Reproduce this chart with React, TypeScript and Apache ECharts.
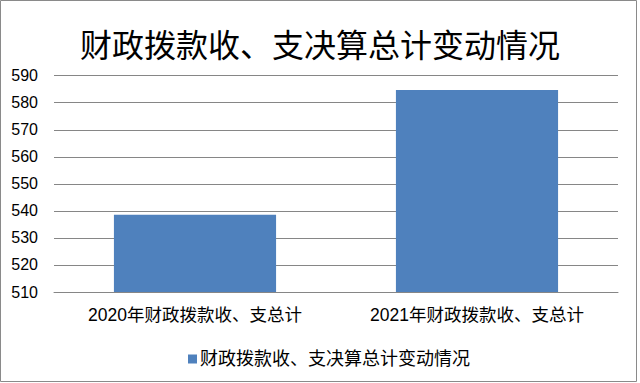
import React, { useEffect, useRef } from "react";
import * as echarts from "echarts";

const titleText = "财政拨款收、支决算总计变动情况";
const categories = ["2020年财政拨款收、支总计", "2021年财政拨款收、支总计"];
const seriesName = "财政拨款收、支决算总计变动情况";
const values = [538.6, 584.7];
const yMin = 510;
const yMax = 590;
const yInterval = 10;

const FONT = "'Liberation Sans', 'Noto Sans CJK SC', sans-serif";

export default function App() {
  const ref = useRef<HTMLDivElement>(null);
  useEffect(() => {
    document.body.style.margin = "0";
    const chart = echarts.init(ref.current!, null, { renderer: "svg" });
    chart.setOption({
      animation: false,
      backgroundColor: "#ffffff",
      title: {
        text: titleText,
        left: "center",
        top: 22,
        textStyle: {
          fontSize: 32,
          fontWeight: "normal",
          color: "#000000",
          fontFamily: "'Noto Sans CJK SC', sans-serif",
        },
      },
      legend: {
        left: 183,
        top: 345,
        itemWidth: 9,
        itemHeight: 9,
        itemGap: 10,
        icon: "rect",
        data: [seriesName],
        textStyle: {
          fontSize: 18,
          color: "#000000",
          fontFamily: FONT,
          padding: [0, 0, 0, -2],
        },
      },
      grid: {
        left: 54,
        right: 22,
        top: 75.7,
        bottom: 91,
        containLabel: false,
      },
      xAxis: {
        type: "category",
        data: categories,
        axisLine: { show: true, lineStyle: { color: "#868686", width: 1 } },
        axisTick: { show: false },
        axisLabel: {
          fontSize: 17.5,
          color: "#000000",
          fontFamily: FONT,
          margin: 14,
        },
      },
      yAxis: {
        type: "value",
        min: yMin,
        max: yMax,
        interval: yInterval,
        axisLine: { show: false },
        axisTick: { show: false },
        splitLine: { show: true, lineStyle: { color: "#868686", width: 1 } },
        axisLabel: {
          fontSize: 16,
          color: "#000000",
          fontFamily: FONT,
          margin: 16,
        },
      },
      series: [
        {
          name: seriesName,
          type: "bar",
          data: values,
          barWidth: "57.5%",
          itemStyle: { color: "#4F81BD" },
        },
      ],
      graphic: [
        {
          type: "rect",
          shape: { x: 0.5, y: 0.5, width: 636, height: 381 },
          style: { fill: "none", stroke: "#8a8a8a", lineWidth: 1 },
          silent: true,
        },
      ],
    });
    return () => chart.dispose();
  }, []);
  return <div ref={ref} style={{ width: 640, height: 383 }} />;
}
